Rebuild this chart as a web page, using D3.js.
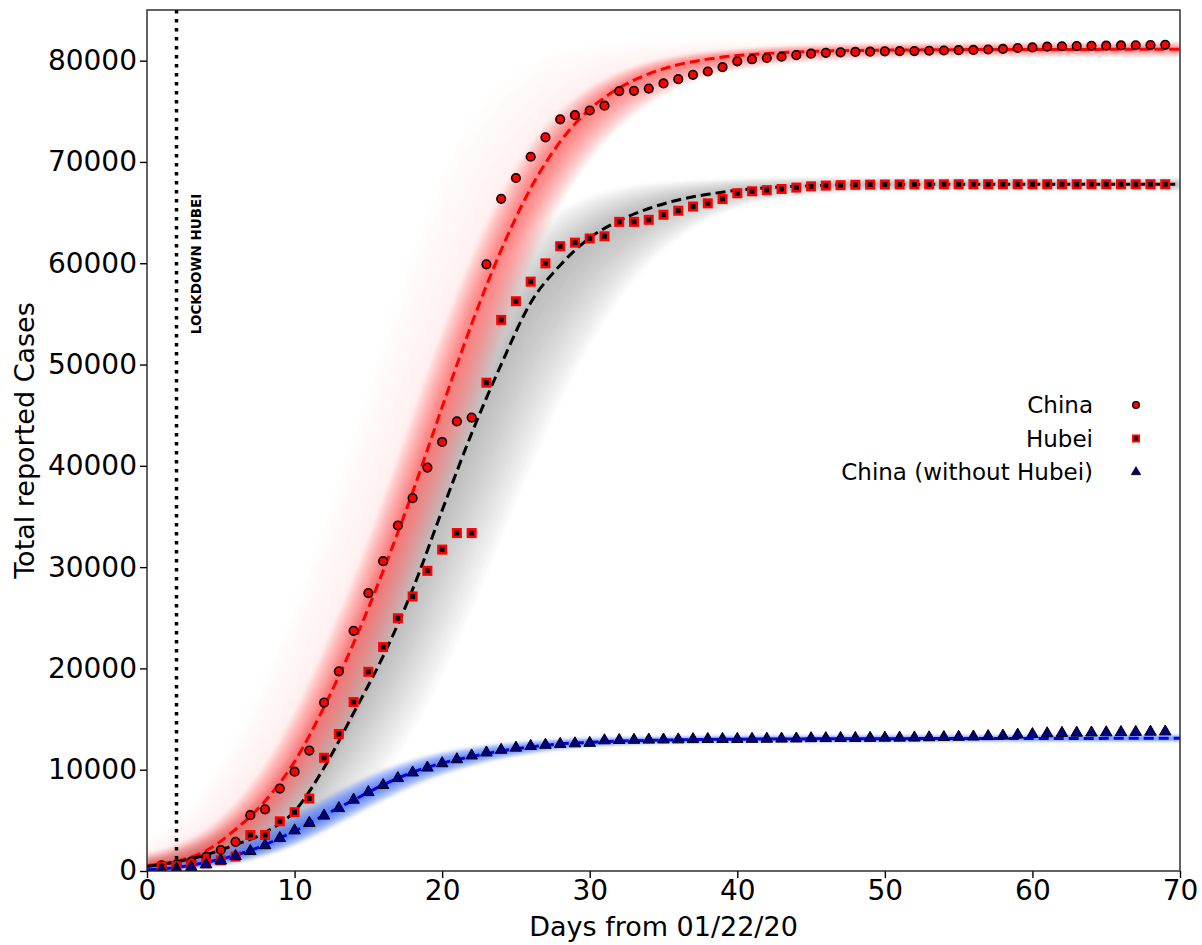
<!DOCTYPE html>
<html>
<head>
<meta charset="utf-8">
<script src="https://cdn.jsdelivr.net/npm/d3@7"></script>
<style>
  body { margin: 0; background: #fff; }
  text { font-family: "DejaVu Sans", sans-serif; }
</style>
</head>
<body>
<div id="chart"></div>
<script>

// reported totals, one per day starting at day 1 (01/22/20)
var obsDays = d3.range(1, 70);
var china = [548, 643, 920, 1406, 2075, 2877, 5509, 6087, 8141, 9802,
  11891, 16630, 19716, 23707, 27440, 30587, 34110, 36814, 39829, 42354,
  44386, 44759, 59895, 66358, 68413, 70513, 72434, 74211, 74619, 75077,
  75550, 77001, 77022, 77241, 77754, 78166, 78600, 78928, 79356, 79932,
  80136, 80261, 80386, 80537, 80690, 80770, 80823, 80860, 80887, 80921,
  80932, 80945, 80977, 81003, 81033, 81058, 81102, 81156, 81250, 81305,
  81380, 81420, 81440, 81460, 81480, 81500, 81520, 81540, 81560];
var hubei = [444, 444, 549, 761, 1058, 1423, 3554, 3554, 4903, 5806,
  7153, 11177, 13522, 16678, 19665, 22112, 24953, 27100, 29631, 31728,
  33366, 33366, 48206, 54406, 56249, 58182, 59989, 61682, 62031, 62442,
  62662, 64084, 64084, 64287, 64786, 65187, 65596, 65914, 66337, 66907,
  67103, 67217, 67332, 67466, 67592, 67666, 67707, 67743, 67760, 67773,
  67781, 67786, 67790, 67794, 67798, 67799, 67800, 67800, 67800, 67800,
  67800, 67800, 67800, 67801, 67801, 67801, 67801, 67801, 67801];
var noHubei = [104, 199, 371, 645, 1017, 1454, 1955, 2533, 3238, 3996,
  4738, 5453, 6194, 7029, 7775, 8475, 9157, 9714, 10198, 10626,
  11020, 11393, 11689, 11952, 12164, 12331, 12445, 12529, 12588, 12635,
  12888, 12917, 12938, 12954, 12968, 12979, 13004, 13014, 13019, 13025,
  13033, 13044, 13054, 13071, 13098, 13104, 13116, 13117, 13127, 13148,
  13151, 13159, 13187, 13209, 13235, 13259, 13302, 13356, 13450, 13505,
  13580, 13620, 13640, 13659, 13679, 13699, 13719, 13739, 13759];

// fitted curves and spread of the fit ensemble, read every 2 days (0..70)
var fitDays = d3.range(0, 71, 2);
var chinaFit = [550, 950, 2000, 4100, 6900, 10800, 16200, 22500, 29600, 37400,
  45800, 54000, 61300, 67400, 72000, 75200, 77300, 78700, 79600, 80150,
  80500, 80700, 80850, 80950, 81000, 81040, 81060, 81080, 81090, 81100,
  81100, 81110, 81110, 81120, 81120, 81120];
var chinaHi = [1800, 2700, 4200, 6800, 10600, 15800, 22100, 29100, 36900, 45200,
  53400, 60800, 67000, 71800, 75100, 77400, 78900, 79900, 80500, 80900,
  81150, 81350, 81500, 81600, 81680, 81730, 81770, 81790, 81810, 81820,
  81830, 81840, 81850, 81850, 81860, 81860];
var chinaLo = [100, 450, 900, 1700, 3400, 6200, 9800, 14900, 21000, 28300,
  36000, 44300, 52500, 60000, 65800, 70200, 73400, 75700, 77300, 78400,
  79100, 79500, 79800, 80000, 80150, 80250, 80300, 80340, 80360, 80380,
  80390, 80400, 80400, 80400, 80400, 80400];
var chinaWisp = [3000, 5000, 8500, 13000, 19000, 26000, 34000, 43000, 52000, 61000,
  68500, 74000, 77500, 79600, 80800, 81400, 81700, 81850, 81900, 81950,
  81950, 81950, 81950, 81950, 81950, 81950, 81950, 81950, 81950, 81950,
  81950, 81950, 81950, 81950, 81950, 81950];

var hubeiFit = [450, 900, 1600, 2600, 3800, 5900, 10200, 15600, 21200, 27800,
  35600, 43200, 50000, 56100, 59800, 62500, 64200, 65400, 66250, 66800,
  67200, 67450, 67600, 67700, 67740, 67770, 67780, 67790, 67790, 67800,
  67800, 67800, 67800, 67800, 67800, 67800];
var hubeiHi = [1400, 2300, 3600, 5400, 8200, 12500, 18000, 24500, 31500, 39000,
  46500, 53500, 59000, 62800, 65200, 66600, 67400, 67850, 68100, 68250,
  68350, 68400, 68450, 68450, 68450, 68450, 68450, 68450, 68450, 68450,
  68450, 68450, 68450, 68450, 68450, 68450];
var hubeiLo = [100, 250, 500, 900, 1500, 2500, 4000, 6300, 9600, 14000,
  19500, 26000, 33000, 40000, 46500, 52000, 56500, 60000, 62500, 64300,
  65500, 66200, 66600, 66850, 67000, 67080, 67100, 67100, 67100, 67100,
  67100, 67100, 67100, 67100, 67100, 67100];

var noHubeiFit = [120, 350, 850, 1550, 2600, 3950, 5500, 7000, 8500, 9750,
  10650, 11300, 11850, 12250, 12550, 12700, 12820, 12900, 12950, 12990,
  13010, 13030, 13040, 13050, 13060, 13060, 13070, 13070, 13080, 13080,
  13080, 13090, 13090, 13100, 13100, 13100];
var noHubeiHi = [450, 900, 1650, 2700, 4050, 5600, 7200, 8700, 10000, 11000,
  11750, 12250, 12600, 12850, 13050, 13150, 13220, 13270, 13310, 13340,
  13360, 13380, 13390, 13400, 13410, 13410, 13420, 13420, 13430, 13430,
  13430, 13440, 13440, 13450, 13450, 13450];
var noHubeiLo = [0, 50, 300, 750, 1500, 2550, 3900, 5400, 6900, 8300,
  9450, 10350, 11050, 11550, 11950, 12220, 12400, 12520, 12600, 12650,
  12680, 12700, 12710, 12720, 12730, 12730, 12740, 12740, 12740, 12750,
  12750, 12750, 12760, 12760, 12760, 12760];

var xTicks = [0, 10, 20, 30, 40, 50, 60, 70];
var yTicks = [0, 10000, 20000, 30000, 40000, 50000, 60000, 70000, 80000];
var lockdownDay = 2;

var legendItems = [
  { name: "China", shape: "circle" },
  { name: "Hubei", shape: "square" },
  { name: "China (without Hubei)", shape: "triangle" }
];

var W = 1202, H = 945;
var plot = { left: 147, right: 1180, top: 10, bottom: 871 };

var svg = d3.select("#chart").append("svg")
  .attr("width", W)
  .attr("height", H);

var x = d3.scaleLinear().domain([0, 70]).range([plot.left, plot.right]);
var y = d3.scaleLinear().domain([0, 85000]).range([plot.bottom, plot.top]);

var defs = svg.append("defs");
defs.append("clipPath").attr("id", "clip")
  .append("rect")
  .attr("x", plot.left).attr("y", plot.top)
  .attr("width", plot.right - plot.left)
  .attr("height", plot.bottom - plot.top);
defs.append("filter").attr("id", "soft")
  .attr("x", "-5%").attr("y", "-5%").attr("width", "110%").attr("height", "110%")
  .append("feGaussianBlur").attr("stdDeviation", 1.6);

var g = svg.append("g").attr("clip-path", "url(#clip)");

// ensemble bands: nested layers from the fit out to the band edges
function band(fit, lo, hi, color, layers, alpha) {
  var layer = g.append("g").attr("filter", "url(#soft)");
  for (var k = layers; k >= 1; k--) {
    var t = k / layers;
    var area = d3.area()
      .curve(d3.curveMonotoneX)
      .x(function(d, i) { return x(fitDays[i]); })
      .y0(function(d, i) { return y(fit[i] + (lo[i] - fit[i]) * t); })
      .y1(function(d, i) { return y(fit[i] + (hi[i] - fit[i]) * t); });
    layer.append("path")
      .datum(fit)
      .attr("d", area)
      .attr("fill", color)
      .attr("fill-opacity", alpha);
  }
}

band(hubeiFit, hubeiLo, hubeiHi, "#7a7a7a", 12, 0.055);
band(chinaFit, chinaLo, chinaWisp, "#ff2020", 10, 0.012);
band(chinaFit, chinaLo, chinaHi, "#ff1a1a", 12, 0.05);
band(noHubeiFit, noHubeiLo, noHubeiHi, "#2a5cff", 8, 0.15);

// fitted curves
function fitLine(values, color) {
  var line = d3.line()
    .curve(d3.curveMonotoneX)
    .x(function(d, i) { return x(fitDays[i]); })
    .y(function(d) { return y(d); });
  g.append("path")
    .datum(values)
    .attr("d", line)
    .attr("fill", "none")
    .attr("stroke", color)
    .attr("stroke-width", 3)
    .attr("stroke-dasharray", "10,5");
}

fitLine(chinaFit, "#ff0000");
fitLine(hubeiFit, "#000000");
fitLine(noHubeiFit, "#0000ff");

// lockdown marker
svg.append("line")
  .attr("x1", x(lockdownDay)).attr("x2", x(lockdownDay))
  .attr("y1", plot.top).attr("y2", plot.bottom)
  .attr("stroke", "#000")
  .attr("stroke-width", 3.5)
  .attr("stroke-dasharray", "3.5,5.5");

svg.append("text")
  .attr("transform", "translate(" + (x(lockdownDay) + 24) + "," + y(53000) + ") rotate(-90)")
  .attr("font-size", "13.5px")
  .attr("font-weight", "bold")
  .text("LOCKDOWN HUBEI");

// markers
var tri = d3.symbol().type(d3.symbolTriangle).size(58);

function drawShape(sel, shape) {
  if (shape === "circle") {
    sel.append("circle").attr("r", 4.3)
      .attr("fill", "#ff0000").attr("stroke", "#000").attr("stroke-width", 1.6);
  } else if (shape === "square") {
    sel.append("rect").attr("x", -3.7).attr("y", -3.7).attr("width", 7.4).attr("height", 7.4)
      .attr("fill", "#000").attr("stroke", "#ff0000").attr("stroke-width", 2.6);
  } else {
    sel.append("path").attr("d", tri)
      .attr("fill", "#000080").attr("stroke", "#000").attr("stroke-width", 1);
  }
}

function markers(values, shape) {
  var sel = g.append("g").selectAll("g")
    .data(values)
    .enter().append("g")
    .attr("transform", function(d, i) {
      return "translate(" + x(obsDays[i]) + "," + y(d) + ")";
    });
  drawShape(sel, shape);
}

markers(china, "circle");
markers(hubei, "square");
markers(noHubei, "triangle");

// axes
var xAxis = svg.append("g")
  .attr("transform", "translate(0," + plot.bottom + ")")
  .call(d3.axisBottom(x).tickValues(xTicks).tickSize(7).tickPadding(2));
var yAxis = svg.append("g")
  .attr("transform", "translate(" + plot.left + ",0)")
  .call(d3.axisLeft(y).tickValues(yTicks).tickFormat(d3.format("d")).tickSize(7).tickPadding(3));

[xAxis, yAxis].forEach(function(ax) {
  ax.select(".domain").remove();
  ax.selectAll(".tick line").attr("stroke", "#000").attr("stroke-width", 1.4);
  ax.selectAll(".tick text")
    .attr("fill", "#000")
    .attr("font-size", "28px")
    .attr("font-family", "DejaVu Sans, sans-serif");
});

svg.append("rect")
  .attr("x", plot.left).attr("y", plot.top)
  .attr("width", plot.right - plot.left)
  .attr("height", plot.bottom - plot.top)
  .attr("fill", "none")
  .attr("stroke", "#222")
  .attr("stroke-width", 1.4);

svg.append("text")
  .attr("x", (plot.left + plot.right) / 2)
  .attr("y", 936)
  .attr("text-anchor", "middle")
  .attr("font-size", "27px")
  .text("Days from 01/22/20");

svg.append("text")
  .attr("transform", "translate(34," + (plot.top + plot.bottom) / 2 + ") rotate(-90)")
  .attr("text-anchor", "middle")
  .attr("font-size", "27px")
  .text("Total reported Cases");

// legend
var legend = svg.append("g").selectAll("g")
  .data(legendItems)
  .enter().append("g")
  .attr("transform", function(d, i) { return "translate(0," + (405 + i * 33.5) + ")"; });

legend.append("text")
  .attr("x", 1093)
  .attr("dy", "0.36em")
  .attr("text-anchor", "end")
  .attr("font-size", "23px")
  .text(function(d) { return d.name; });

legend.each(function(d) {
  var m = d3.select(this).append("g").attr("transform", "translate(1136,0) scale(0.8)");
  drawShape(m, d.shape);
});

</script>
</body>
</html>
